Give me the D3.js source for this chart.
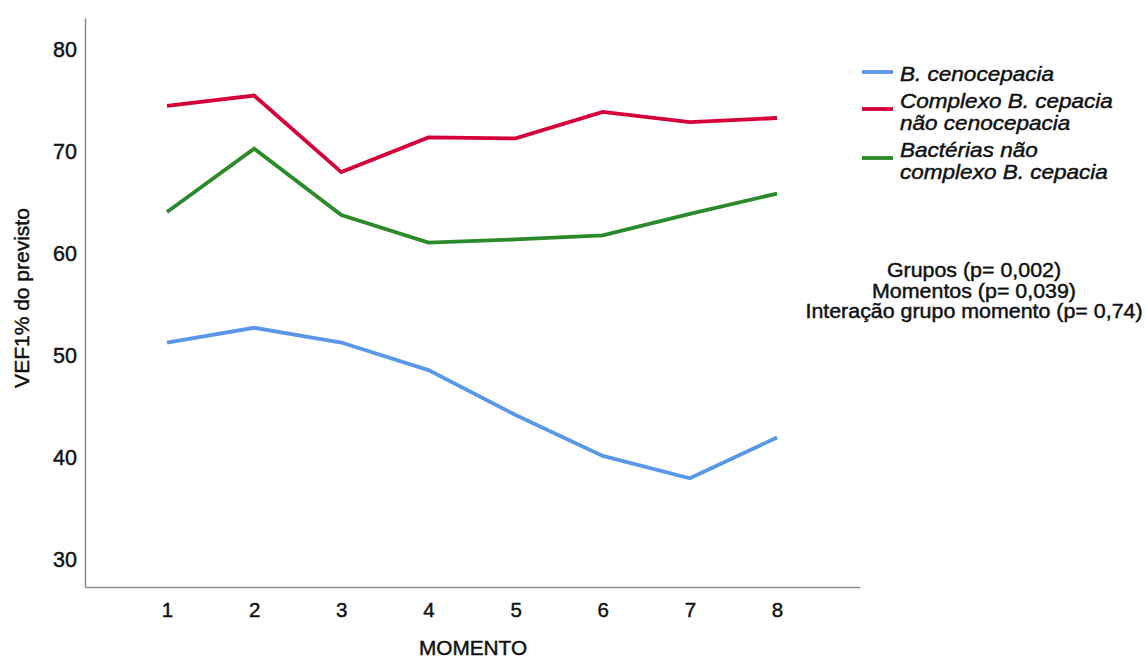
<!DOCTYPE html>
<html><head><meta charset="utf-8">
<script src="https://cdn.jsdelivr.net/npm/d3@7"></script>
<style>body{margin:0;background:#fff}svg{display:block}
text{stroke:#111;stroke-width:0.45px;paint-order:stroke}</style>
</head><body>
<svg id="c" width="1146" height="659"></svg>
<script>
const moments = [1,2,3,4,5,6,7,8];
const yTicks = [30,40,50,60,70,80];
const seriesNames = ["B. cenocepacia","Complexo B. cepacia\nnão cenocepacia","Bactérias não\ncomplexo B. cepacia"];
const bCeno = [51.3,52.75,51.3,48.6,44.2,40.2,38.0,42.0];
const complexo = [74.5,75.5,68.0,71.4,71.3,73.9,72.9,73.3];
const bacterias = [64.1,70.3,63.8,61.1,61.4,61.8,63.9,65.9];
const colors = ["#5a97e6","#d5003a","#2b8a2b"];
const stats = ["Grupos (p= 0,002)","Momentos (p= 0,039)","Interação grupo momento (p= 0,74)"];

const FONT = "Liberation Sans, Arial, sans-serif";
const svg = d3.select("#c");
const x = d3.scaleLinear().domain([0.059,8.952]).range([85,860]);
const y = d3.scaleLinear().domain([27.35,83.1]).range([587,18]);

svg.append("g").attr("transform","translate(85,0)")
  .call(d3.axisLeft(y).tickValues(yTicks).tickSize(0).tickPadding(8))
  .call(g=>g.select(".domain").attr("stroke","#8c8c8c").attr("stroke-width",1.5))
  .call(g=>g.selectAll("text").attr("font-family",FONT).attr("font-size",21.5).attr("fill","#111"));
svg.append("g").attr("transform","translate(0,587)")
  .call(d3.axisBottom(x).tickValues(moments).tickSize(0).tickPadding(15))
  .call(g=>g.select(".domain").attr("stroke","#8c8c8c").attr("stroke-width",1.5))
  .call(g=>g.selectAll("text").attr("font-family",FONT).attr("font-size",20.5).attr("fill","#111"));

function stretched(cx, cy, txt, size, sx, anchor, italic){
  const g = svg.append("g").attr("transform",`translate(${cx},${cy}) scale(${sx},1)`);
  g.append("text").attr("x",0).attr("y",0).attr("text-anchor",anchor)
    .attr("font-family",FONT).attr("font-size",size).attr("fill","#111")
    .attr("font-style",italic?"italic":"normal").text(txt);
}

stretched(473,655,"MOMENTO",20,1.04,"middle",false);
svg.append("text").attr("transform","translate(29,298) rotate(-90)").attr("text-anchor","middle")
  .attr("font-family",FONT).attr("font-size",21).attr("fill","#111").text("VEF1% do previsto");

const line = d3.line().x((d,i)=>x(moments[i])).y(d=>y(d));
[bCeno,complexo,bacterias].forEach((s,i)=>{
  svg.append("path").datum(s).attr("d",line).attr("fill","none")
    .attr("stroke",colors[i]).attr("stroke-width",3.8).attr("stroke-linejoin","miter");
});

// legend
const legY = [72,109,158];
const legTextY = [81,108,157];
seriesNames.forEach((n,i)=>{
  svg.append("line").attr("x1",862).attr("x2",893).attr("y1",legY[i]).attr("y2",legY[i])
    .attr("stroke",colors[i]).attr("stroke-width",3.8);
  n.split("\n").forEach((t,j)=>{
    stretched(900, legTextY[i]+j*22, t, 20.5, 1.1, "start", true);
  });
});

stats.forEach((t,i)=>{
  stretched(974, 277+i*20.5, t, 20, 1.07, "middle", false);
});
</script>
</body></html>
